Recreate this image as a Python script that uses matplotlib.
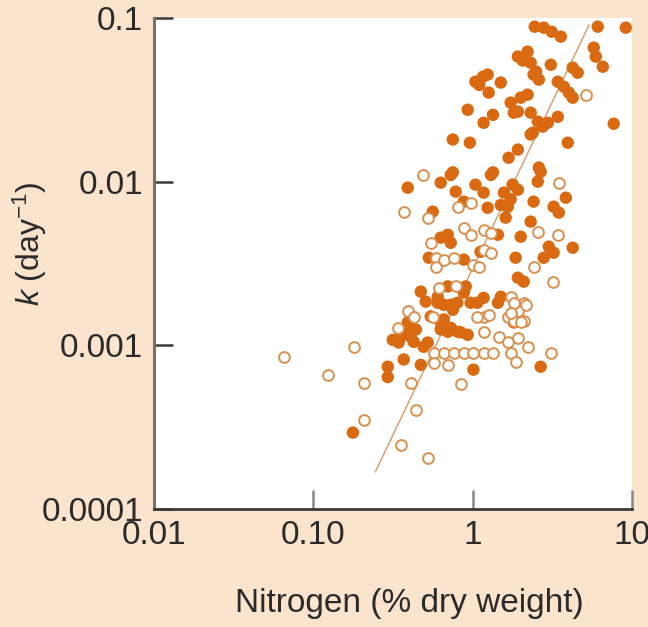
import matplotlib
matplotlib.use("Agg")
import matplotlib.pyplot as plt

plt.rcParams['font.family'] = ['Liberation Sans', 'DejaVu Sans']
plt.rcParams['mathtext.fontset'] = 'custom'
plt.rcParams['mathtext.rm'] = 'Liberation Sans'
plt.rcParams['mathtext.it'] = 'Liberation Sans:italic'

# filled circles (nitrogen %, k per day)
n_filled = [2.45, 2.79, 3.13, 3.57, 6.09, 9.13, 5.75, 5.92, 6.55, 1.92,
            2.21, 2.31, 2.41, 2.60, 3.09, 4.24, 4.56, 3.42, 3.73, 4.01,
            4.24, 1.16, 1.24, 1.50, 1.26, 1.04, 0.93, 1.34, 1.73, 2.00,
            2.21, 1.92, 2.31, 2.56, 3.42, 7.67, 3.95, 0.75, 0.96, 1.17,
            1.81, 2.96, 1.68, 1.92, 2.31, 2.60, 2.67, 2.56, 1.34, 0.75,
            0.391, 0.728, 0.63, 0.561, 0.782, 0.879, 1.04, 1.30, 1.17, 1.24,
            1.57, 1.92, 1.66, 1.61, 2.41, 3.22, 3.84, 3.47, 2.31, 0.697,
            0.728, 0.63, 1.44, 2.00, 3.00, 3.22, 2.79, 4.24, 1.12, 0.530,
            0.879, 1.86, 1.92, 2.09, 0.472, 0.603, 0.697, 0.904, 0.658, 0.75,
            1.17, 0.97, 1.50, 1.81, 0.391, 0.545, 0.63, 0.343, 0.426, 0.522,
            0.805, 0.93, 0.408, 0.492, 0.697, 0.841, 0.658, 0.603, 0.728, 1.07,
            1.44, 0.293, 0.293, 0.369, 0.472, 1.01, 2.67, 0.177, 0.353, 2.38,
            2.75, 0.728, 0.63, 0.379, 0.44, 0.315, 0.80, 0.879, 0.507, 2.06,
            1.73, 1.50, 1.78, 2.50, 1.10]
k_filled = [0.0885, 0.0873, 0.0824, 0.0769, 0.0885, 0.0873, 0.0659, 0.0581, 0.0504, 0.0581,
            0.0623, 0.0533, 0.0451, 0.0420, 0.0518, 0.0497, 0.0463, 0.0408, 0.0380, 0.0350,
            0.0326, 0.0438, 0.0451, 0.0403, 0.0350, 0.0408, 0.0275, 0.0256, 0.0304, 0.0326,
            0.0340, 0.0268, 0.0264, 0.0233, 0.0249, 0.0226, 0.0173, 0.0181, 0.0173, 0.0229,
            0.0264, 0.0229, 0.0140, 0.0157, 0.0194, 0.0122, 0.0115, 0.0100, 0.0114, 0.0114,
            0.00919, 0.0110, 0.00986, 0.00656, 0.00869, 0.00755, 0.00959, 0.0110, 0.00857, 0.00693,
            0.00857, 0.00893, 0.00703, 0.00603, 0.00755, 0.00703, 0.00798, 0.00647, 0.00570, 0.00474,
            0.00423, 0.00455, 0.00474, 0.00461, 0.00401, 0.00368, 0.00343, 0.00395, 0.00373, 0.00343,
            0.00334, 0.00343, 0.00259, 0.00245, 0.00213, 0.00198, 0.00229, 0.00229, 0.00177, 0.00165,
            0.00195, 0.00182, 0.00198, 0.00138, 0.00138, 0.00150, 0.00138, 0.00104, 0.00105, 0.00104,
            0.00121, 0.00116, 0.00113, 0.00098, 0.00121, 0.00120, 0.00144, 0.00182, 0.00177, 0.00182,
            0.00182, 0.00074, 0.00064, 0.00082, 0.00076, 0.00071, 0.00074, 0.000293, 0.00113, 0.0199,
            0.0217, 0.00128, 0.00125, 0.00120, 0.00125, 0.00108, 0.00182, 0.00210, 0.00185, 0.0550,
            0.00780, 0.00720, 0.00960, 0.0470, 0.0390]

# open circles
n_open = [5.12, 0.485, 3.47, 0.369, 0.522, 0.805, 0.97, 0.879, 0.97, 1.17,
          1.30, 2.56, 3.42, 1.17, 0.545, 0.586, 0.658, 0.760, 1.00, 1.30,
          0.586, 1.09, 2.41, 3.18, 0.782, 0.612, 1.73, 2.09, 1.92, 0.391,
          0.338, 0.426, 1.17, 1.17, 1.66, 1.81, 2.15, 2.09, 0.179, 0.561,
          1.26, 1.07, 1.81, 1.73, 2.00, 1.46, 1.66, 1.92, 2.21, 0.569,
          0.658, 0.760, 0.879, 1.01, 1.17, 1.35, 1.73, 1.86, 3.09, 0.569,
          0.697, 0.408, 0.841, 0.207, 0.0651, 0.123, 0.439, 0.207, 0.353, 0.522]
k_open = [0.0340, 0.0110, 0.00986, 0.00656, 0.00603, 0.00703, 0.00745, 0.00524, 0.00474, 0.00509,
          0.00488, 0.00495, 0.00474, 0.00385, 0.00423, 0.00343, 0.00334, 0.00343, 0.00311, 0.00368,
          0.00299, 0.00303, 0.00299, 0.00245, 0.00229, 0.00225, 0.00198, 0.00182, 0.00161, 0.00161,
          0.00128, 0.00148, 0.00150, 0.00121, 0.00150, 0.00140, 0.00177, 0.00140, 0.00098, 0.00148,
          0.00154, 0.00148, 0.00182, 0.00158, 0.00138, 0.00113, 0.00105, 0.00111, 0.00097, 0.00090,
          0.00090, 0.00090, 0.00090, 0.00090, 0.00090, 0.00090, 0.00090, 0.00079, 0.00090, 0.00078,
          0.00076, 0.00059, 0.00058, 0.00059, 0.00085, 0.00066, 0.000405, 0.000352, 0.000247, 0.000206]

# fitted line ends
fit_n = [0.245, 5.37]
fit_k = [0.000169, 0.0906]

x_ticks = [0.01, 0.1, 1, 10]
x_labels = ['0.01', '0.10', '1', '10']
y_ticks = [0.0001, 0.001, 0.01, 0.1]
y_labels = ['0.0001', '0.001', '0.01', '0.1']

orange = '#d96a12'

fig = plt.figure(figsize=(6.48, 6.27), dpi=100)
fig.patch.set_facecolor('#fbe4cd')
ax = fig.add_axes([0.2377, 0.1882, 0.7377, 0.7831])
ax.set_facecolor('white')

ax.plot(fit_n, fit_k, color='#d9a272', lw=1.1, zorder=1)
ax.scatter(n_filled, k_filled, s=80, color=orange, edgecolors='none', zorder=2, clip_on=False)
ax.scatter(n_open, k_open, s=60, facecolors='white', edgecolors='#d9904f',
           linewidths=1.4, zorder=3, clip_on=False)

ax.set_xscale('log')
ax.set_yscale('log')
ax.set_xlim(0.01, 10)
ax.set_ylim(0.0001, 0.1)
ax.set_xticks(x_ticks)
ax.set_xticklabels(x_labels)
ax.set_yticks(y_ticks)
ax.set_yticklabels(y_labels)
ax.minorticks_off()

for s in ['top', 'right']:
    ax.spines[s].set_visible(False)
ax.spines['left'].set_color('#77716b')
ax.spines['left'].set_linewidth(2.2)
ax.spines['bottom'].set_color('#3d3a38')
ax.spines['bottom'].set_linewidth(2.0)

ax.tick_params(axis='x', direction='in', length=14, width=1.8, color='#8a8886',
               labelsize=24, labelcolor='#2a2a2a', pad=8)
ax.tick_params(axis='y', direction='in', length=14, width=1.8, color='#3d3a38',
               labelsize=24, labelcolor='#2a2a2a', pad=8)

ax.set_xlabel('Nitrogen (% dry weight)', fontsize=24, color='#2a2a2a')
ax.xaxis.set_label_coords(0.535, -0.16)
ax.set_ylabel(r'$k$ (day$^{-1}$)', fontsize=23, color='#2a2a2a')
ax.yaxis.set_label_coords(-0.22, 0.54)

fig.savefig('out.png', dpi=100, facecolor=fig.get_facecolor())
